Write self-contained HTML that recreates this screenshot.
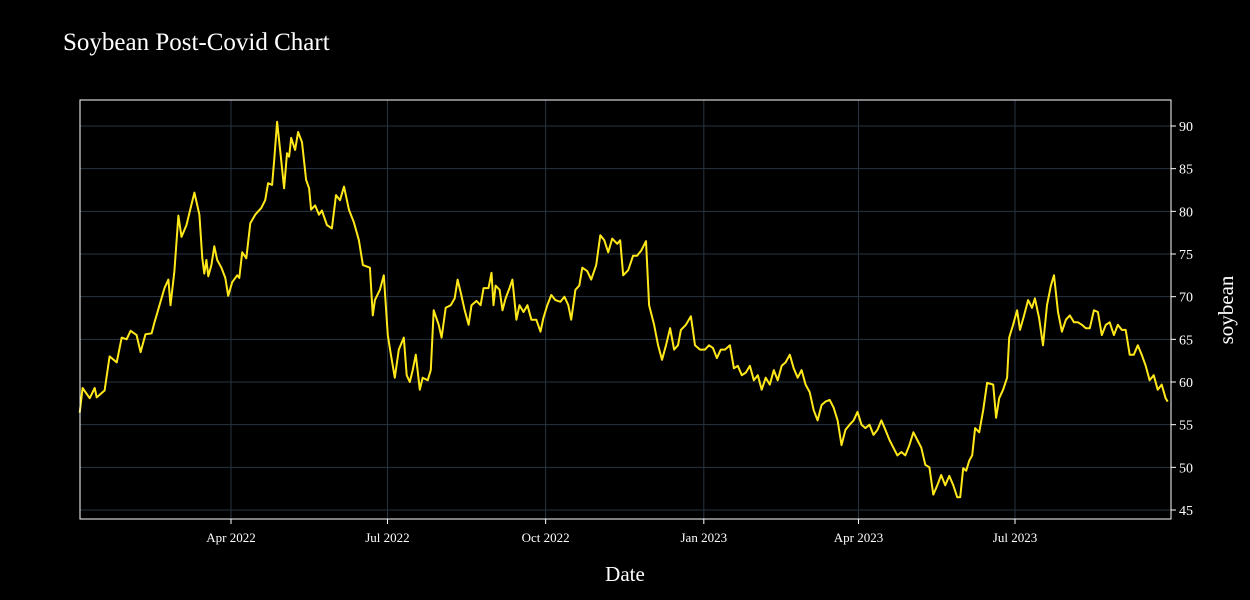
<!DOCTYPE html>
<html><head><meta charset="utf-8">
<style>
html,body{margin:0;padding:0;background:#000;}
svg{display:block;font-family:"Liberation Serif",serif;}
</style></head>
<body>
<svg id="chart" width="1250" height="600" viewBox="0 0 1250 600" xmlns="http://www.w3.org/2000/svg">
<rect x="0" y="0" width="1250" height="600" fill="#000"/>
<text x="63" y="50" fill="#fff" font-size="25">Soybean Post-Covid Chart</text>
<g id="grid"></g>
<g id="series"></g>
<rect x="80" y="100" width="1091" height="419" fill="none" stroke="#fff" stroke-width="1"/>
<g id="axes"></g>
<text x="625" y="581" fill="#fff" font-size="21" text-anchor="middle">Date</text>
<text transform="translate(1233,310) rotate(-90)" fill="#fff" font-size="21" text-anchor="middle">soybean</text>
</svg>
<script>
// days since 2022-01-03
const days = [0,1.7,5.8,8.7,9.9,14.5,17.4,21.5,24.4,27.3,29.6,33.1,35.4,38.3,41.8,43.5,49.3,51.6,52.8,55.1,57.4,59.2,62.1,63.8,66.7,69.6,71.3,72.5,73.7,74.8,76.6,78.3,80,82.4,84.7,86.4,88.7,91.6,92.8,94.5,96.9,99.2,102.1,105.6,107.9,109.6,111.9,113.1,114.8,117.2,118.9,120.6,121.8,123,125.3,127,129.3,131.7,133.4,134.6,136.9,139.2,140.9,143.8,146.7,149.1,151.4,153.7,156.6,159.5,162.4,164.7,168.8,170.5,171.7,174.6,176.9,179.2,181,183.3,185.6,188.5,190.2,192,193.7,195.5,197.8,199.5,202.4,204.2,205.9,208.8,210.5,212.9,215.8,218.1,219.8,221.6,223.9,226.2,227.9,230.8,233.2,234.9,237.8,239.5,240.7,241.9,244.2,245.9,247.7,250,251.7,254,255.8,258.1,260.4,262.7,265.6,268,269.7,272,274.3,276.7,279.6,281.9,284.2,285.9,288.3,290.6,292.3,295.2,297.5,300.4,302.8,305.1,307.4,309.7,312.6,314.4,316.1,319,321.9,324.2,326.6,329.4,331.2,334.1,336.4,338.7,341,343.4,345.7,348,349.7,352.6,355.5,357.9,360.8,363.7,366,368.3,370.6,372.9,375.3,378.2,380.5,382.8,385.1,387.4,389.8,392.1,394.4,396.7,399,401.4,403.7,406,408.3,410.6,413,415.3,417.6,419.9,422.2,424.6,426.9,429.2,431.5,433.8,436.2,438.5,440.8,443.1,445.4,447.8,450.1,452.4,454.7,457,459.4,461.7,464,466.3,468.6,471,473.3,475.6,477.9,480.2,482.6,484.9,487.2,489.5,491.8,494.2,496.5,498.8,501.1,503.4,505.8,508.1,510.4,512.1,513.9,515.6,517.4,519.1,520.8,523.2,525.5,527.8,531.3,533,534.8,537.1,539.4,540.6,542.9,545.2,546.9,549.3,551.6,553.9,555.6,558,560.3,562.6,564.9,566.7,569,571.3,573.6,575.9,578.3,580.6,582.9,585.2,587.5,589.9,592.2,594.5,596.8,599.1,601.5,603.8,606.1,608.4,610.7,613.1,615.4,617.7,620,622.3,624.7,627,629.3,631.6,632.8];
const prices = [56.4,59.3,58.1,59.3,58.2,59,63,62.3,65.2,65,66,65.5,63.5,65.6,65.7,67,71,72,69,73,79.5,77,78.4,79.8,82.2,79.6,74.5,72.7,74.3,72.4,73.7,75.9,74.3,73.4,72.2,70.1,71.7,72.5,72.2,75.2,74.5,78.6,79.6,80.4,81.3,83.3,83.1,86,90.5,86,82.7,86.8,86.4,88.6,87.2,89.3,88.1,83.7,82.7,80.2,80.7,79.6,80.1,78.4,78,81.9,81.3,82.9,80.2,78.7,76.6,73.7,73.4,67.8,69.6,70.8,72.5,65.5,63.2,60.5,63.8,65.2,60.8,60,61.4,63.2,59.1,60.5,60.2,61.4,68.4,66.7,65.2,68.7,69,69.8,72,70.5,68.4,66.7,69,69.5,69,71,71,72.8,69,71.3,70.8,68.4,69.8,71,72,67.3,69,68.2,69,67.3,67.3,65.9,67.5,69,70.2,69.6,69.4,70,69,67.3,70.8,71.3,73.4,73,72,73.7,77.2,76.6,75.2,76.8,76.2,76.6,72.5,73.1,74.8,74.8,75.4,76.5,69,66.7,64.3,62.6,64.3,66.3,63.8,64.3,66.1,66.7,67.7,64.3,63.8,63.8,64.3,64,62.8,63.8,63.8,64.3,61.6,61.9,60.8,61.1,61.9,60.2,60.8,59.1,60.5,59.7,61.4,60.2,61.9,62.3,63.2,61.6,60.5,61.4,59.7,58.8,56.7,55.5,57.3,57.7,57.9,57,55.5,52.6,54.4,55,55.5,56.5,55,54.6,55,53.8,54.4,55.5,54.4,53.2,52.3,51.4,51.8,51.4,52.6,54.1,53.2,52.3,50.3,50,46.8,47.9,49.1,47.9,49,47.9,46.5,46.5,49.9,49.6,50.8,51.4,54.6,54.1,56.7,59.9,59.7,55.8,58.1,59.1,60.5,65.2,66.7,68.4,66.1,67.8,69.6,68.7,69.8,67.5,64.3,69,71.3,72.5,68.2,65.9,67.3,67.8,67,67,66.7,66.3,66.3,68.4,68.2,65.5,66.7,67,65.5,66.7,66.1,66.1,63.2,63.2,64.3,63.2,61.9,60.2,60.8,59.1,59.7,58.1,57.7];
const yTicks = [45,50,55,60,65,70,75,80,85,90];
const xTickDays = [88,179,271,363,453,544];
const xTickLabels = ["Apr 2022","Jul 2022","Oct 2022","Jan 2023","Apr 2023","Jul 2023"];

const NS = "http://www.w3.org/2000/svg";
const L=80,R=1171,T=100,B=519;
const x0=79.7, pxPerDay=1.7193;
function xs(d){return x0+d*pxPerDay;}
function ys(v){return 126+(90-v)*(384/45);}
const grid=document.getElementById('grid'), axes=document.getElementById('axes'), series=document.getElementById('series');
function mk(tag,attrs,parent){const e=document.createElementNS(NS,tag);for(const k in attrs)e.setAttribute(k,attrs[k]);parent.appendChild(e);return e;}
yTicks.forEach(v=>{
  const y=ys(v);
  const g=mk('line',{x1:L,x2:R,y1:y,y2:y,stroke:'#283442','stroke-width':1},grid);
  
  
  const tk=mk('line',{x1:R,x2:R+5,y1:y,y2:y,stroke:'#fff','stroke-width':1},axes);
  
  
  const t=mk('text',{x:R+8,y:y+5,fill:'#fff','font-size':14},axes);
  t.textContent=v;
  
  
});
xTickDays.forEach((d,i)=>{
  const x=xs(d);
  const g=mk('line',{x1:x,x2:x,y1:T,y2:B,stroke:'#283442','stroke-width':1},grid);
  
  
  const tk=mk('line',{x1:x,x2:x,y1:B,y2:B+5,stroke:'#fff','stroke-width':1},axes);
  
  
  const t=mk('text',{x:x,y:B+23,fill:'#fff','font-size':13,'text-anchor':'middle'},axes);
  t.textContent=xTickLabels[i];
  
  
});
const pts=days.map((d,i)=>xs(d).toFixed(1)+','+ys(prices[i]).toFixed(1)).join(' ');
const line=mk('polyline',{points:pts,fill:'none',stroke:'#ffe81a','stroke-width':2,'stroke-linejoin':'round'},series);


</script>
</body></html>
